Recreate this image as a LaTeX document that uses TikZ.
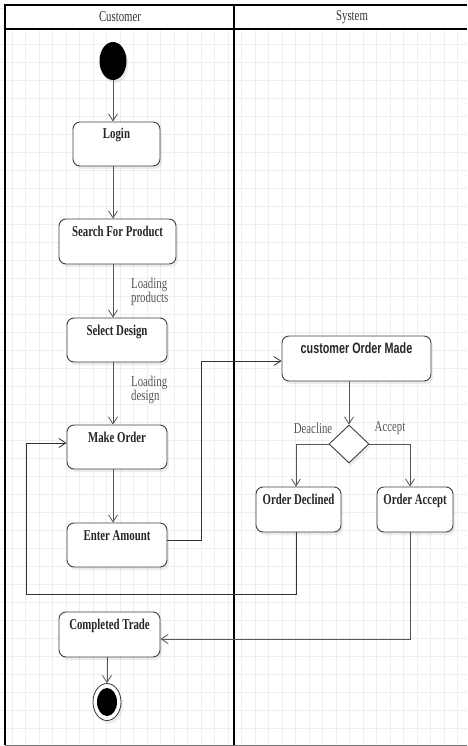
\documentclass[tikz,border=0pt]{standalone}
\usepackage{fontspec}
\setmainfont{Liberation Serif}[FakeStretch=0.72]
\newfontfamily\sysfont{Liberation Sans}[FakeStretch=0.72]
\usetikzlibrary{shapes.geometric,arrows.meta,shadows}
\definecolor{gridgray}{RGB}{238,238,238}
\definecolor{linegray}{RGB}{85,85,85}
\tikzset{
  soft/.style={drop shadow={shadow xshift=2pt,shadow yshift=-3pt,opacity=0.15}},
  action/.style={draw=black!75, line width=0.9pt, rounded corners=7pt, fill=white, soft,
    inner sep=0pt, text=black!85, font=\bfseries\fontsize{15}{15}\selectfont,
    text height=10.5pt, text depth=20.5pt},
  flow/.style={draw=linegray, line width=0.8pt, -{Straight Barb[length=7pt,width=9pt]}},
  link/.style={draw=black!80, line width=0.8pt, -{Straight Barb[length=7pt,width=9pt]}},
  note/.style={anchor=west, align=left, inner sep=0pt, text=linegray,
    font=\fontsize{15}{14}\selectfont},
  lane/.style={line width=1.6pt}
}
\begin{document}
\begin{tikzpicture}[x=1pt,y=-1pt]
    \useasboundingbox (0,0) rectangle (467,746);
    % background grid
    \begin{scope}[gridgray, line width=0.5pt]
        \foreach \gx in {12.2,25.7,...,467} \draw (\gx,5) -- (\gx,746);
        \foreach \gy in {8.7,26.7,...,746} \draw (0,\gy) -- (467,\gy);
    \end{scope}
    % swimlanes
    \fill[white] (5,5) rectangle (467,29);
    \draw[lane] (467,5) -- (5,5) -- (5,745);
    \draw[lane] (5,29) -- (467,29);
    \draw[lane] (234,5) -- (234,746);
    \draw[black!55] (5,745) -- (467,745);
    \node[text=black!80, font=\fontsize{15}{15}\selectfont] (custlane) at (120,17) {Customer};
    \node[text=black!80, font=\fontsize{15}{15}\selectfont] (syslane) at (352,17) {System};

    % customer side
    \node[ellipse, fill=black, soft, minimum width=27pt, minimum height=38pt, inner sep=0pt] (start) at (113,61) {};
    \node[action, minimum width=87pt, minimum height=44pt] (login) at (116.5,144) {Login};
    \node[action, minimum width=117pt, minimum height=45pt] (search) at (117.5,241.5) {Search For Product};
    \node[action, minimum width=100pt, minimum height=44pt] (select) at (117,340) {Select Design};
    \node[action, minimum width=100pt, minimum height=44pt] (make) at (117,447) {Make Order};
    \node[action, minimum width=100pt, minimum height=44pt] (amount) at (117,545) {Enter Amount};
    \node[action, minimum width=101pt, minimum height=45pt] (trade) at (109.5,634.5) {Completed Trade};
    \node[ellipse, draw=black!80, fill=white, soft, line width=0.8pt, minimum width=28pt, minimum height=37pt, inner sep=0pt] (endouter) at (107,702) {};
    \node[ellipse, fill=black, minimum width=20pt, minimum height=28pt, inner sep=0pt] (enddot) at (endouter) {};

    % system side
    \node[action, font=\sysfont\bfseries\fontsize{15}{15}\selectfont, minimum width=149pt, minimum height=45pt] (ordermade) at (356.5,358.5) {customer Order Made};
    \node[diamond, draw=black!75, line width=0.9pt, fill=white, soft, minimum width=40pt, minimum height=38pt, inner sep=0pt] (decide) at (349,444) {};
    \node[action, minimum width=85pt, minimum height=45pt] (declined) at (298.5,509.5) {Order Declined};
    \node[action, minimum width=76pt, minimum height=45pt] (accept) at (415,509.5) {Order Accept};

    % flows
    \draw[flow] (start.south) -- (start |- login.north);
    \draw[flow] (start |- login.south) -- (start |- search.north);
    \draw[flow] (start |- search.south) -- (start |- select.north);
    \node[note] (loadprod) at (131,292) {Loading\\products};
    \draw[flow] (start |- select.south) -- (start |- make.north);
    \node[note] (loaddes) at (131,390) {Loading\\design};
    \draw[flow] (start |- make.south) -- (start |- amount.north);
    \coordinate (sendbend) at (201,361);
    \draw[link] ([yshift=5pt]amount.east) -| (sendbend) -- ([yshift=-2.5pt]ordermade.west);
    \draw[flow] (decide |- ordermade.south) -- (decide.north);
    \draw[flow] (decide.west) -| ([xshift=-2.5pt]declined.north);
    \draw[flow] (decide.east) -| ([xshift=-5pt]accept.north);
    \node[text=linegray, inner sep=0pt, font=\fontsize{15}{15}\selectfont] (declab) at (313,428) {Deacline};
    \node[text=linegray, inner sep=0pt, font=\fontsize{15}{15}\selectfont] (acclab) at (390,428) {Accept};
    \coordinate (retbend) at (26,594);
    \draw[link] ([xshift=-2.5pt]declined.south) |- (retbend) |- ([yshift=4pt]make.west);
    \draw[flow] ([xshift=-5pt]accept.south) |- ([yshift=-4.5pt]trade.east);
    \draw[flow] (endouter |- trade.south) -- (endouter.north);
\end{tikzpicture}
\end{document}
